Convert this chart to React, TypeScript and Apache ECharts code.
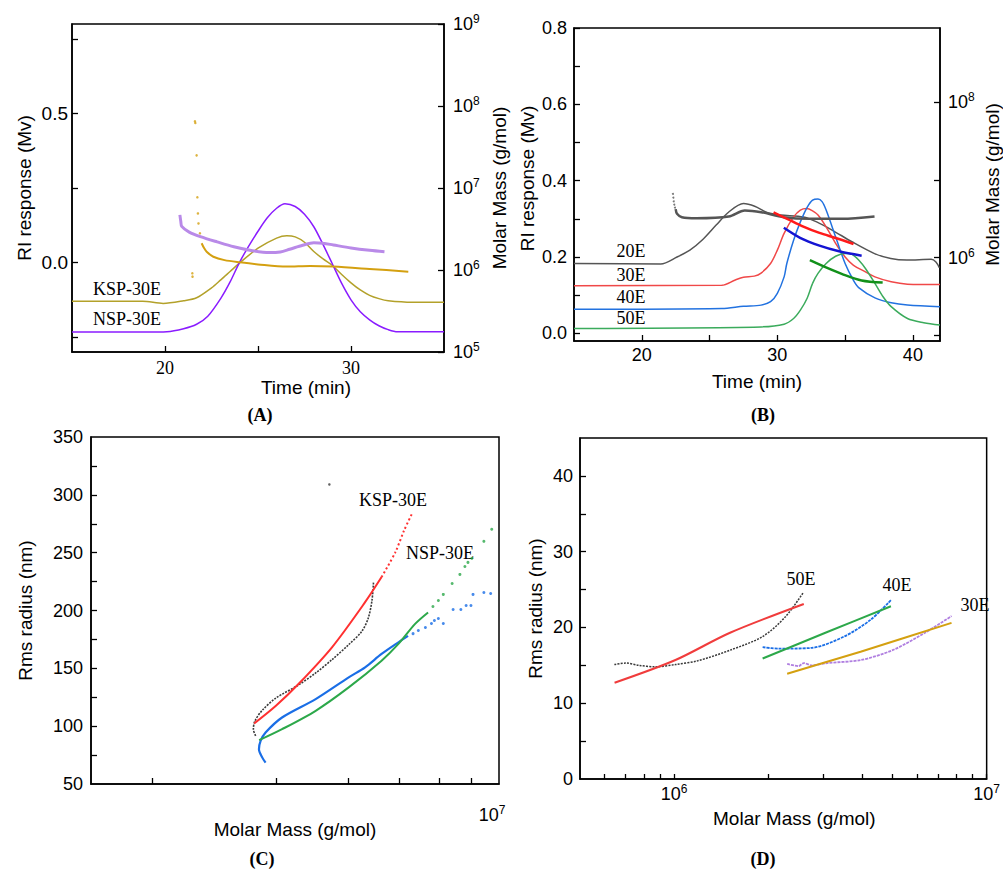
import React, { useEffect, useRef } from 'react';
import * as echarts from 'echarts';

// ---------- Panel A (time in min, RI in Mv, molar mass in g/mol) ----------
const aNspRI: [number, number][] = [[15,-0.233],[19,-0.233],[20.1,-0.232],[21,-0.222],[21.7,-0.207],[22.3,-0.18],[23,-0.12],[23.5,-0.065],[24,0.0],[24.5,0.055],[25,0.105],[25.5,0.15],[26,0.182],[26.45,0.197],[27,0.188],[27.5,0.162],[28,0.12],[28.5,0.06],[29,-0.005],[29.5,-0.07],[30,-0.125],[30.5,-0.165],[31,-0.192],[31.5,-0.212],[32,-0.225],[32.5,-0.232],[35,-0.232]];
const aKspRI: [number, number][] = [[15,-0.13],[18.8,-0.13],[19.9,-0.137],[21,-0.128],[21.7,-0.118],[22.5,-0.085],[23,-0.058],[23.5,-0.03],[24,-0.002],[25,0.048],[26,0.082],[26.55,0.09],[27,0.086],[27.5,0.068],[28,0.037],[28.5,0.012],[29,-0.01],[29.5,-0.04],[30,-0.068],[30.5,-0.092],[31,-0.11],[31.5,-0.121],[32,-0.128],[33.3,-0.133],[35,-0.133]];
const aNspMM: [number, number][] = [[20.8,4.7e6],[20.85,3.9e6],[20.9,3.4e6],[21.3,2.9e6],[21.9,2.55e6],[22.8,2.2e6],[23.7,1.92e6],[24.7,1.72e6],[25.6,1.63e6],[26.2,1.66e6],[26.7,1.79e6],[27.4,2.0e6],[28.0,2.15e6],[28.5,2.12e6],[29.05,2.02e6],[30,1.86e6],[31,1.74e6],[31.8,1.67e6]];
const aKspMM: [number, number][] = [[21.97,2.12e6],[22.1,1.85e6],[22.24,1.67e6],[22.6,1.45e6],[23.2,1.32e6],[24.03,1.24e6],[25,1.17e6],[26.54,1.1e6],[27.8,1.12e6],[29.05,1.1e6],[31,1.03e6],[33.08,0.955e6]];
const aKspMMDots: [number, number][] = [[21.61,6.5e7],[21.63,6.2e7],[21.7,2.5e7],[21.74,7.7e6],[21.77,4.9e6],[21.8,3.7e6],[21.88,2.8e6],[21.47,9.1e5],[21.48,8.3e5]];

// ---------- Panel B ----------
const bRI20: [number, number][] = [[15,0.183],[21.4,0.182],[22.6,0.2],[23.55,0.218],[24.5,0.246],[25.47,0.283],[26.42,0.318],[27.5,0.34],[28.33,0.333],[29.29,0.316],[30.25,0.31],[31.92,0.305],[32.9,0.292],[34.07,0.27],[35.5,0.24],[37.17,0.209],[38.37,0.196],[39.56,0.192],[41.35,0.194],[41.7,0.187],[41.95,0.172]];
const bRI30: [number, number][] = [[15,0.125],[25.9,0.126],[26.9,0.14],[27.5,0.147],[28.3,0.15],[28.8,0.158],[29.5,0.183],[30.0,0.218],[30.5,0.262],[31.2,0.305],[31.7,0.323],[32.16,0.327],[32.6,0.321],[33.0,0.31],[33.6,0.279],[34.3,0.236],[35.0,0.2],[35.6,0.179],[36.5,0.161],[37.2,0.148],[38.4,0.135],[39.6,0.129],[42,0.128]];
const bRI40: [number, number][] = [[15,0.063],[25.9,0.065],[27.5,0.071],[28.8,0.074],[29.5,0.083],[30.0,0.105],[30.5,0.148],[30.7,0.183],[31.2,0.244],[31.7,0.292],[32.2,0.33],[32.6,0.349],[33.0,0.352],[33.3,0.345],[33.6,0.323],[34.3,0.253],[35.0,0.183],[35.6,0.14],[36.0,0.12],[37.2,0.093],[38.4,0.08],[39.6,0.074],[42,0.07]];
const bRI50: [number, number][] = [[15,0.013],[28.8,0.017],[30.5,0.024],[31.2,0.039],[31.7,0.061],[32.2,0.092],[32.6,0.131],[33.0,0.157],[33.6,0.183],[34.3,0.202],[35.0,0.209],[35.3,0.209],[35.6,0.205],[36.0,0.192],[36.5,0.17],[37.2,0.131],[37.8,0.096],[38.4,0.07],[39.6,0.039],[40.8,0.028],[42,0.022]];
const bMM20: [number, number][] = [[22.5,4.2e6],[22.6,3.66e6],[22.96,3.31e6],[24.03,3.21e6],[26.42,3.38e6],[27.6,4.04e6],[28.81,3.84e6],[30.48,3.31e6],[32.4,3.16e6],[34.79,3.16e6],[37.17,3.38e6]];
const bMM20Dots: [number, number][] = [[22.3,6.6e6],[22.33,5.9e6],[22.36,5.3e6],[22.4,4.8e6],[22.45,4.4e6]];
const bMM30: [number, number][] = [[29.72,3.81e6],[30.72,3.16e6],[31.92,2.51e6],[33.11,2.08e6],[34.31,1.79e6],[35.62,1.5e6]];
const bMM40: [number, number][] = [[30.48,2.42e6],[31.68,1.8e6],[33.11,1.43e6],[34.55,1.21e6],[36.22,1.06e6]];
const bMM50: [number, number][] = [[32.4,9.3e5],[33.59,7.5e5],[34.79,6.16e5],[36.22,5.1e5],[37.77,4.79e5]];

// ---------- Panel C (molar mass g/mol, Rms radius nm) ----------
const cKspData: [number, number][] = [[1.785e6,91.6],[1.762e6,97.3],[1.778e6,104.6],[1.853e6,113.8],[2.0e6,124.3],[2.27e6,135.6],[2.5e6,146],[2.74e6,157.5],[3.01e6,170.5],[3.24e6,182],[3.36e6,193.6],[3.43e6,208.7],[3.46e6,224.6]];
const cKspOutlier: [number, number][] = [[2.7e6,309]];
const cKspFit: [number, number][] = [[1.77e6,102.3],[2.0e6,117.6],[2.27e6,136.4],[2.74e6,168.2],[3.3e6,207.2],[3.62e6,228.9]];
const cKspFitSparse: [number, number][] = [[3.62e6,228.9],[3.91e6,250.3],[4.11e6,269.4],[4.3e6,284.1]];
const cNspData: [number, number][] = [[1.887e6,68.5],[1.853e6,72.8],[1.818e6,80],[1.835e6,87.3],[1.887e6,94.5],[2.07e6,107.5],[2.5e6,123.4],[3.01e6,142.2],[3.3e6,150.9],[3.62e6,162.4],[3.98e6,172.5],[4.2e6,178]];
const cNspDataDots: [number, number][] = [[4.32e6,180],[4.45e6,182.7],[4.63e6,185.3],[4.79e6,188.7],[4.87e6,191.3],[4.98e6,193.1],[5.12e6,188.7],[5.41e6,200.9],[5.65e6,200.9],[5.82e6,204.3],[5.98e6,204.3],[6.05e6,213.9],[6.43e6,215.6],[6.68e6,214.7]];
const cNspFit: [number, number][] = [[1.82e6,87.9],[2.07e6,97.4],[2.5e6,113.3],[3.01e6,133.5],[3.62e6,156.6],[3.98e6,171.1],[4.37e6,188.4],[4.7e6,198.3]];
const cNspFitDots: [number, number][] = [[4.83e6,203.5],[4.98e6,208.7],[5.12e6,213.9],[5.38e6,223.4],[5.62e6,231.2],[5.78e6,238.1],[5.88e6,241.6],[6.01e6,245.1],[6.43e6,259.8],[6.72e6,270.2]];

// ---------- Panel D ----------
const d50Data: [number, number][] = [[6.44e5,15.1],[7.0e5,15.3],[7.72e5,15.0],[8.7e5,14.8],[1.01e6,15.1],[1.19e6,15.6],[1.51e6,17.0],[1.92e6,18.8],[2.27e6,21.4],[2.59e6,24.6]];
const d50Fit: [number, number][] = [[6.45e5,12.7],[1.01e6,15.7],[1.51e6,19.3],[2.6e6,23.1]];
const d40Data: [number, number][] = [[1.92e6,17.4],[2.16e6,17.2],[2.75e6,17.3],[3.5e6,18.8],[4.25e6,21.0],[4.94e6,23.6]];
const d40Fit: [number, number][] = [[1.92e6,15.9],[3.09e6,19.4],[4.94e6,22.8]];
const d30Data: [number, number][] = [[2.3e6,15.2],[2.5e6,14.9],[2.6e6,15.3],[2.75e6,15.0],[3.09e6,15.3],[3.95e6,15.7],[5.0e6,17.0],[6.35e6,19.3],[7.72e6,21.5]];
const d30Fit: [number, number][] = [[2.3e6,13.9],[3.95e6,16.8],[7.72e6,20.6]];

// tick / label values
const aXLabels = [20, 30];
const aXTicks = [20, 25, 30];
const aYLabels = [0, 0.5];
const aYTicks = [-0.25, 0, 0.25, 0.5, 0.75];
const aMMDecades = [5, 6, 7, 8, 9];
const bXLabels = [20, 30, 40];
const bXTicks = [20, 25, 30, 35, 40];
const bYLabels = [0, 0.2, 0.4, 0.6, 0.8];
const bYTicks = [0, 0.1, 0.2, 0.3, 0.4, 0.5, 0.6, 0.7, 0.8];
const bMMLabels = [6, 8];
const bMMTicks = [5, 6, 7, 8];
const cXTickMasses = [1e6, 2e6, 3e6, 4e6, 5e6, 6e6];
const cYLabels = [50, 100, 150, 200, 250, 300, 350];
const cYTicks = [75, 100, 125, 150, 175, 200, 225, 250, 275, 300, 325];
const dXLabels = [6, 7];
const dXTickMasses = [6e5, 7e5, 8e5, 9e5, 1e6, 2e6, 3e6, 4e6, 5e6, 6e6, 7e6, 8e6, 9e6, 1e7];
const dYLabels = [0, 10, 20, 30, 40];
const dYTicks = [5, 10, 15, 20, 25, 30, 35, 40];

const SANS = '"Liberation Sans", Arial, sans-serif';
const SERIF = '"Liberation Serif", "Times New Roman", serif';
const lg = (m: number) => Math.log10(m);
const logX = (a: [number, number][]) => a.map(([x, y]) => [lg(x), y]);
const logY = (a: [number, number][]) => a.map(([x, y]) => [x, lg(y)]);

const supRich = {
  b: { fontSize: 18, fontFamily: SANS, color: '#000', lineHeight: 22 },
  s: { fontSize: 12, fontFamily: SANS, color: '#000', lineHeight: 10, verticalAlign: 'top' },
};
const supFmt = (v: number) => `{b|10}{s|${Math.round(v)}}`;

const lineCol = { color: '#000', width: 1.5 };

function axisBase(extra: any) {
  return {
    type: 'value',
    axisLine: { show: true, onZero: false, lineStyle: lineCol },
    splitLine: { show: false },
    nameTextStyle: { fontSize: 19, fontFamily: SANS, color: '#000' },
    nameLocation: 'middle',
    ...extra,
  };
}
const ticks = (vals: number[], len = 6) => ({ show: true, inside: true, length: len, customValues: vals, lineStyle: { color: '#000', width: 1.3 } });
const labels = (vals: number[], extra: any = {}) => ({ show: true, customValues: vals, fontSize: 18, fontFamily: SANS, color: '#000', ...extra });

function line(data: any, x: number, y: number, color: string, width = 1.5, dash: any = 'solid', smooth: any = 0.3) {
  return { type: 'line', xAxisIndex: x, yAxisIndex: y, data, showSymbol: false, symbol: 'none', smooth, lineStyle: { color, width, type: dash }, itemStyle: { color }, silent: true };
}
function dots(data: any, x: number, y: number, color: string, size = 2.5) {
  return { type: 'scatter', xAxisIndex: x, yAxisIndex: y, data, symbolSize: size, itemStyle: { color }, silent: true };
}
function label(text: string, x: number, y: number, size = 18) {
  return { type: 'text', x, y, style: { text, fontSize: size, fontFamily: SERIF, fill: '#000', align: 'center', verticalAlign: 'middle' } };
}
function caption(text: string, x: number, y: number) {
  return { type: 'text', x, y, style: { text, fontSize: 18, fontWeight: 'bold', fontFamily: SERIF, fill: '#000', align: 'center', verticalAlign: 'middle' } };
}

export default function App() {
  const ref = useRef<HTMLDivElement>(null);
  useEffect(() => {
    if (!ref.current) return;
    const chart = echarts.init(ref.current, null, { renderer: 'svg' });
    const gridStyle = { show: true, borderColor: '#000', borderWidth: 1.5, backgroundColor: 'transparent', containLabel: false };
    chart.setOption({
      animation: false,
      backgroundColor: '#fff',
      grid: [
        { left: 72, top: 24, width: 372, height: 328, ...gridStyle },
        { left: 574, top: 28, width: 376, height: 313, ...gridStyle },
        { left: 91, top: 437, width: 408, height: 347, ...gridStyle },
        { left: 580, top: 438, width: 416, height: 341, ...gridStyle },
      ],
      xAxis: [
        axisBase({ gridIndex: 0, min: 15, max: 35, name: 'Time (min)', nameGap: 23,
          nameTextStyle: { fontSize: 19, fontFamily: SANS, color: '#000', padding: [0, 0, 0, 96] },
          axisTick: ticks(aXTicks), axisLabel: labels(aXLabels, { fontFamily: SERIF, margin: 7 }) }),
        axisBase({ gridIndex: 1, min: 15, max: 42, name: 'Time (min)', nameGap: 31,
          axisTick: ticks(bXTicks), axisLabel: labels(bXLabels, { margin: 5 }) }),
        axisBase({ gridIndex: 2, min: 5.85, max: lg(7e6), name: 'Molar Mass (g/mol)', nameGap: 36,
          axisTick: ticks(cXTickMasses.map(lg)), axisLabel: { show: false } }),
        axisBase({ gridIndex: 3, min: lg(5e5), max: 7, name: 'Molar Mass (g/mol)', nameGap: 30,
          nameTextStyle: { fontSize: 19, fontFamily: SANS, color: '#000', padding: [0, 0, 0, 22] },
          axisTick: ticks(dXTickMasses.map(lg), 5), axisLabel: labels(dXLabels, { margin: 4, formatter: supFmt, rich: supRich }) }),
      ],
      yAxis: [
        axisBase({ gridIndex: 0, position: 'left', min: -0.3, max: 0.8, name: 'RI response (Mv)', nameGap: 38, nameRotate: 90,
          axisTick: ticks(aYTicks), axisLabel: labels(aYLabels, { fontSize: 19, margin: 4, formatter: (v: number) => v.toFixed(1) }) }),
        axisBase({ gridIndex: 0, position: 'right', min: 5, max: 9, name: 'Molar Mass (g/mol)', nameGap: 46, nameRotate: 90,
          axisTick: ticks(aMMDecades), axisLabel: labels(aMMDecades, { margin: 9, formatter: supFmt, rich: supRich }) }),
        axisBase({ gridIndex: 1, position: 'left', min: -0.02, max: 0.8, name: 'RI response (Mv)', nameGap: 37, nameRotate: 90,
          nameTextStyle: { fontSize: 19, fontFamily: SANS, color: '#000', padding: [0, 0, 0, 12] },
          axisTick: ticks(bYTicks), axisLabel: labels(bYLabels, { margin: 7, formatter: (v: number) => v.toFixed(1) }) }),
        axisBase({ gridIndex: 1, position: 'right', min: 4.93, max: 8.95, name: 'Molar Mass (g/mol)', nameGap: 43, nameRotate: 90,
          axisTick: ticks(bMMTicks), axisLabel: labels(bMMLabels, { margin: 8, formatter: supFmt, rich: supRich }) }),
        axisBase({ gridIndex: 2, position: 'left', min: 50, max: 350, name: 'Rms radius (nm)', nameGap: 56, nameRotate: 90,
          axisTick: ticks(cYTicks), axisLabel: labels(cYLabels, { margin: 8 }) }),
        axisBase({ gridIndex: 3, position: 'left', min: 0, max: 45, name: 'Rms radius (nm)', nameGap: 35, nameRotate: 90,
          axisTick: ticks(dYTicks), axisLabel: labels(dYLabels, { margin: 7 }) }),
      ],
      series: [
        // A
        line(aKspRI, 0, 0, '#b3a12a', 1.5),
        line(aNspRI, 0, 0, '#8a1cff', 1.5),
        line(logY(aNspMM), 0, 1, '#b98ae8', 3),
        line(logY(aKspMM), 0, 1, '#d4a010', 2),
        dots(logY(aKspMMDots), 0, 1, '#d4a010', 2.5),
        // B
        line(bRI20, 1, 2, '#555555', 1.5),
        line(bRI30, 1, 2, '#f04848', 1.5),
        line(bRI40, 1, 2, '#2272e0', 1.5),
        line(bRI50, 1, 2, '#3bab5c', 1.5),
        line(logY(bMM20), 1, 3, '#555555', 2.5),
        dots(logY(bMM20Dots), 1, 3, '#555555', 2),
        line(logY(bMM30), 1, 3, '#ff1a1a', 2.5),
        line(logY(bMM40), 1, 3, '#1414d2', 2.5),
        line(logY(bMM50), 1, 3, '#12901a', 2.5),
        // C
        line(logX(cKspData), 2, 4, '#3a3a3a', 1.6, [2, 1.2]),
        dots(logX(cKspOutlier), 2, 4, '#3a3a3a', 2.5),
        line(logX(cKspFit), 2, 4, '#ff3030', 2),
        line(logX(cKspFitSparse), 2, 4, '#ff3030', 2, [2, 2.5]),
        line(logX(cNspData), 2, 4, '#1a6ee6', 2.2),
        dots(logX(cNspDataDots), 2, 4, '#1a6ee6', 3),
        line(logX(cNspFit), 2, 4, '#2ca84a', 2),
        dots(logX(cNspFitDots), 2, 4, '#2ca84a', 3),
        // D
        line(logX(d50Data), 3, 5, '#3a3a3a', 1.5, [2, 1.2]),
        line(logX(d50Fit), 3, 5, '#f03c3c', 2),
        line(logX(d40Data), 3, 5, '#1a6ee6', 1.8, [3, 1]),
        line(logX(d40Fit), 3, 5, '#2ca84a', 2),
        line(logX(d30Data), 3, 5, '#b07fe0', 1.8, [3, 1]),
        line(logX(d30Fit), 3, 5, '#d4a010', 2),
      ],
      graphic: [
        label('KSP-30E', 127, 289),
        label('NSP-30E', 127, 319),
        label('20E', 631, 251),
        label('30E', 631, 275),
        label('40E', 631, 297),
        label('50E', 631, 318),
        label('KSP-30E', 393, 500),
        label('NSP-30E', 440, 553),
        label('50E', 801, 579),
        label('40E', 897, 585),
        label('30E', 975, 605),
        { type: 'text', x: 492, y: 815, style: { text: '{b|10}{s|7}', rich: supRich, align: 'center', verticalAlign: 'middle' } },
        caption('(A)', 260, 415),
        caption('(B)', 763, 415),
        caption('(C)', 262, 859),
        caption('(D)', 763, 859),
      ],
    });
    return () => chart.dispose();
  }, []);
  return <div ref={ref} style={{ position: 'fixed', left: 0, top: 0, width: 1003, height: 869, background: '#fff' }} />;
}
